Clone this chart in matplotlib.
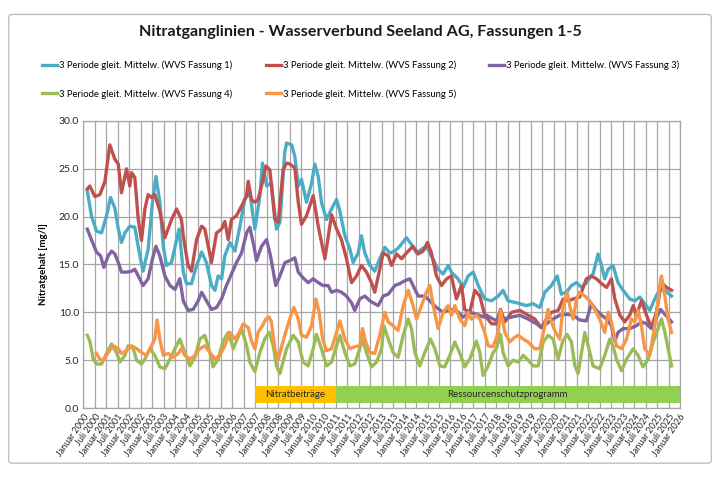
import matplotlib
matplotlib.use('Agg')
import matplotlib.pyplot as plt
from matplotlib.patches import FancyBboxPatch

plt.rcParams['font.family'] = ['Lato', 'DejaVu Sans']

# --- data (decimal year, nitrate mg/l) ---
jahr_f1 = [2000.18, 2000.36, 2000.58, 2000.80, 2001.02, 2001.19, 2001.38, 2001.53, 2001.67, 2001.82,
           2002.03, 2002.25, 2002.44, 2002.61, 2002.83, 2003.02, 2003.17, 2003.34, 2003.49, 2003.63,
           2003.85, 2004.07, 2004.18, 2004.36, 2004.50, 2004.72, 2004.94, 2005.16, 2005.37, 2005.59,
           2005.74, 2005.88, 2006.03, 2006.17, 2006.39, 2006.61, 2006.83, 2007.04, 2007.26, 2007.48,
           2007.70, 2007.81, 2007.99, 2008.20, 2008.42, 2008.57, 2008.78, 2008.86, 2009.08, 2009.22,
           2009.37, 2009.51, 2009.73, 2009.95, 2010.09, 2010.24, 2010.38, 2010.60, 2010.82, 2011.04,
           2011.18, 2011.40, 2011.62, 2011.76, 2011.98, 2012.12, 2012.27, 2012.49, 2012.70, 2012.92,
           2013.14, 2013.36, 2013.58, 2013.79, 2014.08, 2014.30, 2014.52, 2014.74, 2014.95, 2015.17,
           2015.46, 2015.68, 2015.90, 2016.04, 2016.33, 2016.55, 2016.77, 2016.99, 2017.21, 2017.45,
           2017.49, 2017.79, 2018.08, 2018.29, 2018.51, 2018.87, 2019.31, 2019.60, 2019.89, 2020.11,
           2020.40, 2020.65, 2020.83, 2021.05, 2021.27, 2021.49, 2021.71, 2021.92, 2022.21, 2022.43,
           2022.58, 2022.72, 2022.87, 2023.08, 2023.30, 2023.52, 2023.81, 2024.03, 2024.25, 2024.46,
           2024.68, 2024.90, 2025.12, 2025.34, 2025.63]
wert_f1 = [22.7, 20.1, 18.5, 18.3, 20.1, 22.0, 20.9, 18.7, 17.3, 18.3,
           19.0, 18.9, 16.3, 14.3, 16.6, 21.5, 24.2, 21.5, 16.9, 14.9,
           15.2, 17.6, 18.7, 14.2, 13.0, 13.0, 14.9, 16.3, 15.2, 12.8,
           12.3, 13.8, 13.5, 15.9, 17.3, 16.4, 19.0, 21.8, 22.5, 18.7,
           22.2, 25.6, 23.2, 23.5, 18.7, 19.4, 26.7, 27.7, 27.5, 26.3,
           23.2, 23.9, 21.5, 23.5, 25.5, 24.2, 21.5, 19.7, 20.8, 21.8,
           20.6, 18.0, 16.6, 15.2, 16.2, 18.0, 16.2, 14.9, 14.3, 15.6,
           16.8, 16.2, 16.4, 16.9, 17.8, 17.1, 16.2, 16.6, 16.9, 15.9,
           14.5, 14.0, 14.9, 14.2, 13.5, 12.6, 13.8, 14.2, 12.8, 11.6,
           11.4, 11.2, 11.7, 12.3, 11.2, 11.0, 10.7, 10.9, 10.5, 12.1,
           12.8, 13.8, 11.9, 12.1, 12.8, 13.1, 12.6, 13.1, 14.0, 16.1,
           14.9, 13.5, 14.5, 14.9, 13.1, 12.3, 11.4, 11.2, 11.6, 10.9,
           10.2, 11.4, 12.4, 12.3, 11.7]

jahr_f2 = [2000.18, 2000.29, 2000.51, 2000.73, 2000.95, 2001.16, 2001.38, 2001.53, 2001.67, 2001.89,
           2002.03, 2002.11, 2002.25, 2002.40, 2002.54, 2002.69, 2002.83, 2002.98, 2003.12, 2003.34,
           2003.56, 2003.85, 2004.07, 2004.28, 2004.36, 2004.57, 2004.72, 2004.94, 2005.16, 2005.30,
           2005.59, 2005.81, 2006.03, 2006.17, 2006.32, 2006.46, 2006.68, 2006.90, 2007.12, 2007.19,
           2007.33, 2007.48, 2007.62, 2007.77, 2007.96, 2008.13, 2008.35, 2008.50, 2008.71, 2008.86,
           2009.00, 2009.22, 2009.37, 2009.51, 2009.73, 2010.02, 2010.24, 2010.53, 2010.82, 2011.04,
           2011.25, 2011.47, 2011.69, 2011.91, 2012.12, 2012.34, 2012.56, 2012.70, 2012.92, 2013.07,
           2013.29, 2013.43, 2013.65, 2013.87, 2014.08, 2014.37, 2014.59, 2014.81, 2015.00, 2015.17,
           2015.39, 2015.61, 2015.83, 2016.04, 2016.26, 2016.48, 2016.62, 2016.84, 2017.06, 2017.28,
           2017.49, 2017.79, 2018.00, 2018.18, 2018.37, 2018.66, 2019.02, 2019.38, 2019.67, 2019.96,
           2020.18, 2020.40, 2020.69, 2020.91, 2021.13, 2021.34, 2021.63, 2021.92, 2022.14, 2022.36,
           2022.58, 2022.80, 2023.01, 2023.16, 2023.38, 2023.59, 2023.81, 2023.96, 2024.10, 2024.32,
           2024.54, 2024.75, 2024.97, 2025.19, 2025.41, 2025.63]
wert_f2 = [22.9, 23.2, 22.1, 22.3, 23.7, 27.5, 26.0, 25.5, 22.5, 25.0,
           23.2, 24.6, 24.1, 19.7, 17.5, 20.8, 22.3, 22.0, 22.3, 20.6,
           17.8, 19.7, 20.8, 19.7, 18.0, 14.9, 14.3, 17.6, 19.0, 18.7,
           15.2, 18.3, 18.7, 19.5, 17.6, 19.7, 20.1, 21.1, 22.2, 23.7,
           21.8, 21.5, 21.8, 23.2, 25.3, 24.9, 19.7, 19.4, 24.9, 25.6,
           25.5, 25.1, 21.5, 19.2, 20.1, 22.2, 19.0, 15.6, 20.2, 18.7,
           17.6, 15.6, 13.1, 13.8, 14.9, 14.2, 13.1, 12.1, 14.5, 16.2,
           15.9, 14.9, 16.1, 15.6, 16.2, 16.9, 16.1, 16.4, 17.3, 16.2,
           13.8, 12.8, 13.5, 13.8, 11.4, 12.8, 10.3, 10.0, 12.3, 11.7,
           9.7, 8.8, 8.8, 10.3, 9.0, 10.0, 10.2, 9.7, 9.3, 8.4,
           9.3, 10.0, 10.2, 11.4, 11.2, 11.4, 11.6, 13.5, 13.8, 13.5,
           13.0, 12.6, 13.5, 11.4, 9.7, 9.0, 9.7, 10.7, 9.7, 11.2,
           9.7, 8.4, 10.0, 13.1, 12.6, 12.3]

jahr_f3 = [2000.18, 2000.36, 2000.58, 2000.76, 2000.90, 2001.09, 2001.24, 2001.38, 2001.53, 2001.67,
           2001.89, 2002.11, 2002.25, 2002.40, 2002.61, 2002.83, 2003.02, 2003.17, 2003.34, 2003.56,
           2003.78, 2004.00, 2004.21, 2004.36, 2004.57, 2004.79, 2005.01, 2005.16, 2005.37, 2005.59,
           2005.81, 2006.03, 2006.24, 2006.46, 2006.68, 2006.90, 2007.12, 2007.26, 2007.44, 2007.55,
           2007.77, 2007.99, 2008.16, 2008.39, 2008.57, 2008.79, 2009.00, 2009.22, 2009.37, 2009.58,
           2009.80, 2010.02, 2010.24, 2010.45, 2010.67, 2010.82, 2011.04, 2011.25, 2011.47, 2011.69,
           2011.83, 2012.05, 2012.27, 2012.49, 2012.70, 2012.85, 2013.07, 2013.29, 2013.58, 2013.79,
           2014.01, 2014.23, 2014.37, 2014.59, 2014.88, 2015.10, 2015.39, 2015.68, 2015.97, 2016.26,
           2016.55, 2016.84, 2017.13, 2017.45, 2017.57, 2017.93, 2018.29, 2018.66, 2019.02, 2019.38,
           2019.75, 2019.96, 2020.18, 2020.47, 2020.76, 2021.05, 2021.34, 2021.63, 2021.92, 2022.14,
           2022.36, 2022.58, 2022.80, 2023.01, 2023.16, 2023.30, 2023.52, 2023.81, 2024.10, 2024.32,
           2024.54, 2024.75, 2024.94, 2025.15, 2025.34, 2025.63]
wert_f3 = [18.7, 17.6, 16.3, 15.9, 14.7, 15.9, 16.4, 16.1, 15.2, 14.2,
           14.2, 14.3, 14.5, 13.8, 12.8, 13.5, 15.6, 16.9, 15.9, 13.8,
           12.8, 12.4, 13.5, 11.2, 10.2, 10.3, 11.2, 12.1, 11.2, 10.3,
           10.5, 11.4, 12.8, 14.0, 15.2, 16.2, 18.3, 18.9, 16.9, 15.4,
           16.9, 17.6, 15.9, 12.8, 13.8, 15.2, 15.4, 15.7, 14.2, 13.6,
           13.1, 13.5, 13.1, 12.8, 12.8, 12.1, 12.3, 12.1, 11.7, 11.0,
           10.2, 11.4, 11.7, 11.2, 10.9, 10.7, 11.7, 11.9, 12.8, 13.0,
           13.3, 13.5, 12.8, 11.7, 11.7, 11.2, 10.5, 10.0, 10.3, 10.2,
           9.5, 10.0, 9.8, 9.5, 9.7, 9.2, 9.3, 9.5, 9.7, 9.3,
           8.8, 8.4, 8.8, 9.3, 9.7, 9.8, 9.7, 9.2, 9.1, 10.9,
           10.2, 9.7, 9.3, 8.6, 7.0, 7.9, 8.3, 8.3, 8.6, 9.0,
           8.8, 8.3, 9.3, 10.3, 9.8, 9.0]

jahr_f4 = [2000.18, 2000.29, 2000.44, 2000.58, 2000.80, 2001.02, 2001.24, 2001.45, 2001.60, 2001.82,
           2001.96, 2002.18, 2002.33, 2002.54, 2002.69, 2002.91, 2003.12, 2003.34, 2003.56, 2003.78,
           2004.00, 2004.21, 2004.43, 2004.65, 2004.87, 2005.08, 2005.30, 2005.52, 2005.66, 2005.88,
           2006.10, 2006.32, 2006.54, 2006.71, 2006.90, 2007.12, 2007.26, 2007.48, 2007.70, 2007.91,
           2008.10, 2008.28, 2008.42, 2008.57, 2008.86, 2009.15, 2009.37, 2009.58, 2009.80, 2010.02,
           2010.16, 2010.38, 2010.60, 2010.82, 2011.04, 2011.18, 2011.40, 2011.62, 2011.83, 2012.05,
           2012.17, 2012.34, 2012.56, 2012.78, 2013.00, 2013.10, 2013.29, 2013.50, 2013.72, 2013.94,
           2014.16, 2014.30, 2014.45, 2014.66, 2014.88, 2015.13, 2015.32, 2015.54, 2015.75, 2015.97,
           2016.19, 2016.41, 2016.62, 2016.84, 2017.13, 2017.28, 2017.42, 2017.64, 2017.86, 2018.00,
           2018.18, 2018.29, 2018.51, 2018.73, 2018.95, 2019.17, 2019.38, 2019.60, 2019.82, 2020.04,
           2020.25, 2020.47, 2020.69, 2020.88, 2021.08, 2021.27, 2021.42, 2021.56, 2021.71, 2021.85,
           2022.00, 2022.21, 2022.50, 2022.72, 2022.94, 2023.08, 2023.23, 2023.45, 2023.67, 2023.96,
           2024.17, 2024.39, 2024.61, 2024.83, 2025.04, 2025.19, 2025.34, 2025.48, 2025.63]
wert_f4 = [7.6, 7.0, 5.1, 4.6, 4.6, 5.7, 6.7, 5.8, 4.8, 5.5,
           6.5, 6.2, 5.0, 4.6, 5.1, 6.2, 5.5, 4.3, 4.1, 5.1,
           6.2, 7.2, 5.8, 4.4, 5.3, 7.2, 7.6, 5.8, 4.3, 5.1,
           7.0, 7.9, 6.2, 7.2, 8.3, 6.5, 4.8, 3.8, 5.8, 7.2,
           7.9, 6.5, 4.4, 3.6, 6.2, 7.6, 6.9, 4.8, 4.4, 6.2,
           7.7, 6.2, 4.4, 4.8, 6.5, 7.6, 5.8, 4.4, 4.6, 6.2,
           7.2, 5.8, 4.3, 4.8, 6.2, 8.6, 7.2, 5.8, 5.3, 7.6,
           9.3, 8.3, 5.8, 4.4, 5.8, 7.2, 6.2, 4.4, 4.3, 5.5,
           6.9, 5.7, 4.3, 5.1, 7.0, 5.8, 3.4, 4.4, 5.8, 6.2,
           7.7, 5.8, 4.4, 5.0, 4.8, 5.5, 5.0, 4.4, 4.4, 6.9,
           7.6, 7.2, 5.1, 6.9, 7.7, 6.9, 4.4, 3.6, 5.8, 7.9,
           6.5, 4.4, 4.1, 5.5, 7.2, 6.5, 5.1, 3.9, 5.1, 6.2,
           5.5, 4.3, 5.1, 6.9, 8.3, 9.3, 7.9, 6.2, 4.4]

jahr_f5 = [2000.58, 2000.73, 2000.87, 2001.09, 2001.31, 2001.53, 2001.67, 2001.89, 2002.11, 2002.33,
           2002.54, 2002.76, 2002.98, 2003.12, 2003.22, 2003.34, 2003.49, 2003.70, 2003.92, 2004.14,
           2004.28, 2004.43, 2004.65, 2004.87, 2005.08, 2005.30, 2005.52, 2005.74, 2005.95, 2006.17,
           2006.39, 2006.61, 2006.80, 2006.97, 2007.19, 2007.33, 2007.48, 2007.62, 2007.81, 2007.96,
           2008.10, 2008.20, 2008.35, 2008.50, 2008.78, 2009.00, 2009.18, 2009.37, 2009.51, 2009.73,
           2009.95, 2010.14, 2010.28, 2010.43, 2010.60, 2010.82, 2011.04, 2011.18, 2011.40, 2011.62,
           2011.83, 2012.05, 2012.17, 2012.31, 2012.49, 2012.70, 2012.92, 2013.14, 2013.29, 2013.50,
           2013.72, 2013.94, 2014.16, 2014.37, 2014.52, 2014.74, 2014.95, 2015.10, 2015.25, 2015.46,
           2015.68, 2015.90, 2016.04, 2016.19, 2016.41, 2016.62, 2016.77, 2016.91, 2017.13, 2017.28,
           2017.49, 2017.64, 2017.86, 2018.08, 2018.18, 2018.37, 2018.58, 2018.80, 2018.95, 2019.17,
           2019.38, 2019.67, 2019.89, 2020.11, 2020.25, 2020.40, 2020.54, 2020.76, 2020.91, 2021.08,
           2021.23, 2021.34, 2021.49, 2021.63, 2021.85, 2022.07, 2022.29, 2022.50, 2022.72, 2022.87,
           2023.01, 2023.23, 2023.45, 2023.67, 2023.88, 2024.03, 2024.17, 2024.32, 2024.46, 2024.68,
           2024.83, 2024.97, 2025.12, 2025.19, 2025.34, 2025.48, 2025.63]
wert_f5 = [5.7, 5.1, 5.0, 5.8, 6.5, 6.2, 5.7, 6.0, 6.5, 6.2,
           5.8, 5.5, 6.5, 7.2, 9.2, 7.2, 5.5, 5.7, 5.3, 5.7,
           6.2, 5.5, 5.1, 5.5, 6.2, 6.5, 5.8, 5.1, 5.5, 6.5,
           7.9, 7.2, 7.9, 8.8, 8.4, 7.0, 6.2, 7.9, 8.6, 9.3,
           9.5, 9.0, 6.2, 5.1, 7.6, 9.3, 10.5, 9.3, 7.6, 7.4,
           8.6, 11.4, 10.0, 7.2, 6.0, 6.2, 7.9, 9.1, 7.2, 6.2,
           6.4, 6.5, 8.3, 6.9, 5.8, 5.7, 7.6, 10.0, 9.0, 8.6,
           8.1, 10.7, 12.3, 10.7, 9.3, 10.7, 12.1, 12.8, 10.7, 8.3,
           10.0, 10.7, 9.7, 10.7, 9.3, 8.6, 10.0, 9.3, 9.7, 9.3,
           7.9, 6.5, 6.4, 7.9, 10.2, 7.9, 6.9, 7.4, 7.6, 7.2,
           6.9, 6.2, 6.2, 8.6, 10.3, 9.0, 8.1, 7.2, 10.7, 12.1,
           10.3, 9.3, 11.4, 12.1, 11.7, 11.2, 10.3, 9.3, 7.9, 10.0,
           9.0, 6.5, 6.2, 7.2, 9.3, 9.0, 10.2, 8.6, 6.2, 5.5,
           7.6, 9.7, 12.8, 13.8, 11.7, 9.3, 7.9]

serien = ['3 Periode gleit. Mittelw. (WVS Fassung 1)',
          '3 Periode gleit. Mittelw. (WVS Fassung 2)',
          '3 Periode gleit. Mittelw. (WVS Fassung 3)',
          '3 Periode gleit. Mittelw. (WVS Fassung 4)',
          '3 Periode gleit. Mittelw. (WVS Fassung 5)']

tick_jahre = list(range(2000, 2027))

programme = ['Nitratbeiträge', 'Ressourcenschutzprogramm']
prog_start = [2007.5, 2011.0]
prog_ende = [2011.0, 2026.0]

farben = ['#4BACC6', '#C0504D', '#8064A2', '#9BBB59', '#F79646']
prog_farben = ['#FFC000', '#92D050']

fig = plt.figure(figsize=(7.2, 4.8), dpi=100)
ax = fig.add_axes([0.1155, 0.15, 0.829, 0.598])

rahmen = FancyBboxPatch((0.012, 0.035), 0.976, 0.935, boxstyle='round,pad=0,rounding_size=0.006',
                        transform=fig.transFigure, fc='white', ec='#bfbfbf', lw=1, zorder=-10)
fig.patches.append(rahmen)

alle = [(jahr_f1, wert_f1), (jahr_f2, wert_f2), (jahr_f3, wert_f3), (jahr_f4, wert_f4), (jahr_f5, wert_f5)]
linien = []
for (x, y), c, name in zip(alle, farben, serien):
    l, = ax.plot(x, y, color=c, lw=2.4, label=name, solid_joinstyle='round', zorder=3)
    linien.append(l)

# programme bands
for name, a, b, c in zip(programme, prog_start, prog_ende, prog_farben):
    ax.fill_between([a, b], 0.5, 2.3, color=c, lw=0, zorder=2)
    ax.text((a + b) / 2, 1.4, name, ha='center', va='center', fontsize=7, color='#262626', zorder=4)

ax.set_xlim(2000, 2026)
ax.set_ylim(0, 30)
ax.set_yticks([0, 5, 10, 15, 20, 25, 30])
ax.set_yticklabels(['%.1f' % v for v in [0, 5, 10, 15, 20, 25, 30]], fontsize=7.5)

xt, xl = [], []
for j in tick_jahre:
    xt.append(j)
    xl.append('Januar %d' % j)
    if j < 2026:
        xt.append(j + 0.5)
        xl.append('Juli %d' % j)
ax.set_xticks(xt)
ax.set_xticklabels(xl, rotation=55, ha='right', rotation_mode='anchor', fontsize=6.5)
ax.tick_params(axis='both', length=0, pad=3, colors='#262626')

ax.grid(True, color='#a6a6a6', lw=0.9)
ax.set_axisbelow(True)
for s in ax.spines.values():
    s.set_color('#a6a6a6')
    s.set_linewidth(0.9)

ax.set_ylabel('Nitratgehalt [mg/l]', fontsize=7, fontweight='bold', labelpad=8)

fig.text(0.5, 1 - 32 / 480, 'Nitratganglinien - Wasserverbund Seeland AG, Fassungen 1-5',
         ha='center', va='center', fontsize=11.6, fontweight='bold', color='#1a1a1a')

ordnung = [0, 3, 1, 4, 2]
fig.legend([linien[i] for i in ordnung], [serien[i] for i in ordnung], ncol=3,
           loc='upper left', bbox_to_anchor=(0.047, 0.891), frameon=False, fontsize=6.8,
           handlelength=1.6, handletextpad=0.2, columnspacing=3.5, labelspacing=2.0)

fig.savefig('out.png', dpi=100)
